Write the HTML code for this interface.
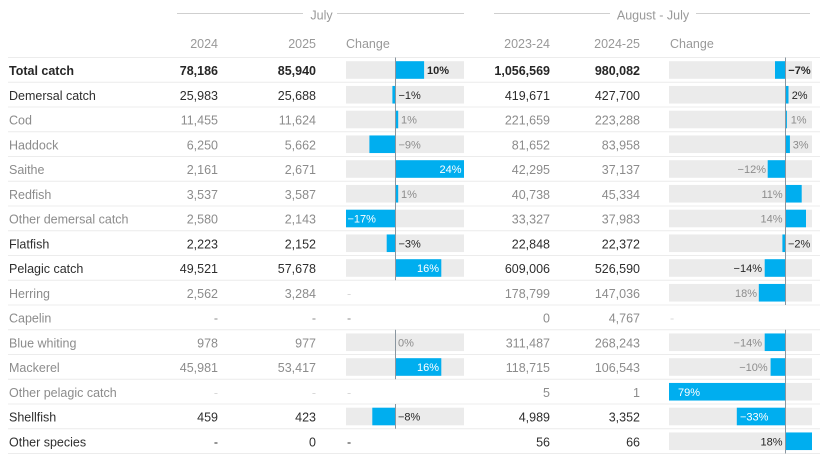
<!DOCTYPE html>
<html><head><meta charset="utf-8"><style>
html,body{margin:0;padding:0;background:#fff;width:820px;height:461px;overflow:hidden}
svg{display:block}
text{font-family:"Liberation Sans",sans-serif}
</style></head><body>
<svg width="820" height="461" viewBox="0 0 820 461" xmlns="http://www.w3.org/2000/svg">
<!-- group headers -->
<line x1="177" y1="13.5" x2="303" y2="13.5" stroke="#cfcfcf" stroke-width="1"/>
<line x1="337" y1="13.5" x2="464" y2="13.5" stroke="#cfcfcf" stroke-width="1"/>
<text x="321.5" y="19.5" font-size="12.5" fill="#999" text-anchor="middle">July</text>
<line x1="494" y1="13.5" x2="610" y2="13.5" stroke="#cfcfcf" stroke-width="1"/>
<line x1="696" y1="13.5" x2="810" y2="13.5" stroke="#cfcfcf" stroke-width="1"/>
<text x="653" y="19.5" font-size="12.5" fill="#999" text-anchor="middle">August - July</text>
<!-- column headers -->
<g font-size="12.5" fill="#999">
<text x="218" y="48" text-anchor="end">2024</text>
<text x="316" y="48" text-anchor="end">2025</text>
<text x="346" y="48">Change</text>
<text x="550" y="48" text-anchor="end">2023-24</text>
<text x="640" y="48" text-anchor="end">2024-25</text>
<text x="670" y="48">Change</text>
</g>
<!-- row separators -->
<g stroke="#ececec" stroke-width="1">
<line x1="8" y1="57.5" x2="820" y2="57.5"/>
<line x1="8" y1="82.25" x2="820" y2="82.25"/>
<line x1="8" y1="107" x2="820" y2="107"/>
<line x1="8" y1="131.75" x2="820" y2="131.75"/>
<line x1="8" y1="156.5" x2="820" y2="156.5"/>
<line x1="8" y1="181.25" x2="820" y2="181.25"/>
<line x1="8" y1="206" x2="820" y2="206"/>
<line x1="8" y1="230.75" x2="820" y2="230.75"/>
<line x1="8" y1="255.5" x2="820" y2="255.5"/>
<line x1="8" y1="280.25" x2="820" y2="280.25"/>
<line x1="8" y1="305" x2="820" y2="305"/>
<line x1="8" y1="329.75" x2="820" y2="329.75"/>
<line x1="8" y1="354.5" x2="820" y2="354.5"/>
<line x1="8" y1="379.25" x2="820" y2="379.25"/>
<line x1="8" y1="404" x2="820" y2="404"/>
<line x1="8" y1="428.75" x2="820" y2="428.75"/>
<line x1="8" y1="453.5" x2="820" y2="453.5"/>
</g>
<!-- grey backgrounds left -->
<g fill="#ebebeb">
<rect x="346" y="61.2" width="118" height="17.6"/>
<rect x="346" y="85.95" width="118" height="17.6"/>
<rect x="346" y="110.7" width="118" height="17.6"/>
<rect x="346" y="135.45" width="118" height="17.6"/>
<rect x="346" y="160.2" width="118" height="17.6"/>
<rect x="346" y="184.95" width="118" height="17.6"/>
<rect x="346" y="209.7" width="118" height="17.6"/>
<rect x="346" y="234.45" width="118" height="17.6"/>
<rect x="346" y="259.2" width="118" height="17.6"/>
<rect x="346" y="333.45" width="118" height="17.6"/>
<rect x="346" y="358.2" width="118" height="17.6"/>
<rect x="346" y="407.7" width="118" height="17.6"/>
<!-- right -->
<rect x="669" y="61.2" width="143" height="17.6"/>
<rect x="669" y="85.95" width="143" height="17.6"/>
<rect x="669" y="110.7" width="143" height="17.6"/>
<rect x="669" y="135.45" width="143" height="17.6"/>
<rect x="669" y="160.2" width="143" height="17.6"/>
<rect x="669" y="184.95" width="143" height="17.6"/>
<rect x="669" y="209.7" width="143" height="17.6"/>
<rect x="669" y="234.45" width="143" height="17.6"/>
<rect x="669" y="259.2" width="143" height="17.6"/>
<rect x="669" y="283.95" width="143" height="17.6"/>
<rect x="669" y="333.45" width="143" height="17.6"/>
<rect x="669" y="358.2" width="143" height="17.6"/>
<rect x="669" y="382.95" width="143" height="17.6"/>
<rect x="669" y="407.7" width="143" height="17.6"/>
<rect x="669" y="432.45" width="143" height="17.6"/>
</g>
<!-- blue bars left (zero 395.3, 2.88px/%) -->
<g fill="#00aeef">
<rect x="395.3" y="61.2" width="28.8" height="17.6"/>
<rect x="392.4" y="85.95" width="2.9" height="17.6"/>
<rect x="395.3" y="110.7" width="2.9" height="17.6"/>
<rect x="369.4" y="135.45" width="25.9" height="17.6"/>
<rect x="395.3" y="160.2" width="68.7" height="17.6"/>
<rect x="395.3" y="184.95" width="2.9" height="17.6"/>
<rect x="346" y="209.7" width="49.3" height="17.6"/>
<rect x="386.7" y="234.45" width="8.6" height="17.6"/>
<rect x="395.3" y="259.2" width="46" height="17.6"/>
<rect x="395.3" y="358.2" width="46" height="17.6"/>
<rect x="372.3" y="407.7" width="23" height="17.6"/>
<!-- right (zero 785.3, 1.47px/%) -->
<rect x="775" y="61.2" width="10.3" height="17.6"/>
<rect x="785.3" y="85.95" width="3.2" height="17.6"/>
<rect x="785.3" y="110.7" width="1.6" height="17.6"/>
<rect x="785.3" y="135.45" width="4.6" height="17.6"/>
<rect x="767.7" y="160.2" width="17.6" height="17.6"/>
<rect x="785.3" y="184.95" width="16.4" height="17.6"/>
<rect x="785.3" y="209.7" width="20.7" height="17.6"/>
<rect x="782.4" y="234.45" width="2.9" height="17.6"/>
<rect x="764.7" y="259.2" width="20.6" height="17.6"/>
<rect x="758.8" y="283.95" width="26.5" height="17.6"/>
<rect x="764.7" y="333.45" width="20.6" height="17.6"/>
<rect x="770.6" y="358.2" width="14.7" height="17.6"/>
<rect x="669" y="382.95" width="116.3" height="17.6"/>
<rect x="736.8" y="407.7" width="48.5" height="17.6"/>
<rect x="785.3" y="432.45" width="26.7" height="17.6"/>
</g>
<!-- zero lines -->
<g stroke="#8a96a0" stroke-width="1">
<line x1="395.5" y1="57.5" x2="395.5" y2="280.25"/>
<line x1="395.5" y1="329.75" x2="395.5" y2="379.25"/>
<line x1="395.5" y1="404" x2="395.5" y2="428.75"/>
<line x1="785.5" y1="57.5" x2="785.5" y2="305"/>
<line x1="785.5" y1="329.75" x2="785.5" y2="453.5"/>
</g>
<!-- row labels and values -->
<g font-size="12.5">
<g fill="#262626" font-weight="bold">
<text x="9" y="75">Total catch</text>
<text x="218" y="75" text-anchor="end">78,186</text>
<text x="316" y="75" text-anchor="end">85,940</text>
<text x="550" y="75" text-anchor="end">1,056,569</text>
<text x="640" y="75" text-anchor="end">980,082</text>
</g>
<g fill="#2e2e2e">
<text x="9" y="99.75">Demersal catch</text>
<text x="218" y="99.75" text-anchor="end">25,983</text>
<text x="316" y="99.75" text-anchor="end">25,688</text>
<text x="550" y="99.75" text-anchor="end">419,671</text>
<text x="640" y="99.75" text-anchor="end">427,700</text>
<text x="9" y="248.25">Flatfish</text>
<text x="218" y="248.25" text-anchor="end">2,223</text>
<text x="316" y="248.25" text-anchor="end">2,152</text>
<text x="550" y="248.25" text-anchor="end">22,848</text>
<text x="640" y="248.25" text-anchor="end">22,372</text>
<text x="9" y="273">Pelagic catch</text>
<text x="218" y="273" text-anchor="end">49,521</text>
<text x="316" y="273" text-anchor="end">57,678</text>
<text x="550" y="273" text-anchor="end">609,006</text>
<text x="640" y="273" text-anchor="end">526,590</text>
<text x="9" y="421.5">Shellfish</text>
<text x="218" y="421.5" text-anchor="end">459</text>
<text x="316" y="421.5" text-anchor="end">423</text>
<text x="550" y="421.5" text-anchor="end">4,989</text>
<text x="640" y="421.5" text-anchor="end">3,352</text>
<text x="9" y="446.25">Other species</text>
<text x="218" y="446.25" text-anchor="end">-</text>
<text x="316" y="446.25" text-anchor="end">0</text>
<text x="550" y="446.25" text-anchor="end">56</text>
<text x="640" y="446.25" text-anchor="end">66</text>
<text x="347" y="446.25">-</text>
</g>
<g fill="#8c8c8c">
<text x="9" y="124.5">Cod</text>
<text x="218" y="124.5" text-anchor="end">11,455</text>
<text x="316" y="124.5" text-anchor="end">11,624</text>
<text x="550" y="124.5" text-anchor="end">221,659</text>
<text x="640" y="124.5" text-anchor="end">223,288</text>
<text x="9" y="149.25">Haddock</text>
<text x="218" y="149.25" text-anchor="end">6,250</text>
<text x="316" y="149.25" text-anchor="end">5,662</text>
<text x="550" y="149.25" text-anchor="end">81,652</text>
<text x="640" y="149.25" text-anchor="end">83,958</text>
<text x="9" y="174">Saithe</text>
<text x="218" y="174" text-anchor="end">2,161</text>
<text x="316" y="174" text-anchor="end">2,671</text>
<text x="550" y="174" text-anchor="end">42,295</text>
<text x="640" y="174" text-anchor="end">37,137</text>
<text x="9" y="198.75">Redfish</text>
<text x="218" y="198.75" text-anchor="end">3,537</text>
<text x="316" y="198.75" text-anchor="end">3,587</text>
<text x="550" y="198.75" text-anchor="end">40,738</text>
<text x="640" y="198.75" text-anchor="end">45,334</text>
<text x="9" y="223.5">Other demersal catch</text>
<text x="218" y="223.5" text-anchor="end">2,580</text>
<text x="316" y="223.5" text-anchor="end">2,143</text>
<text x="550" y="223.5" text-anchor="end">33,327</text>
<text x="640" y="223.5" text-anchor="end">37,983</text>
<text x="9" y="297.75">Herring</text>
<text x="218" y="297.75" text-anchor="end">2,562</text>
<text x="316" y="297.75" text-anchor="end">3,284</text>
<text x="550" y="297.75" text-anchor="end">178,799</text>
<text x="640" y="297.75" text-anchor="end">147,036</text>
<text x="9" y="322.5">Capelin</text>
<text x="218" y="322.5" text-anchor="end">-</text>
<text x="316" y="322.5" text-anchor="end">-</text>
<text x="550" y="322.5" text-anchor="end">0</text>
<text x="640" y="322.5" text-anchor="end">4,767</text>
<text x="347" y="322.5">-</text>
<text x="9" y="347.25">Blue whiting</text>
<text x="218" y="347.25" text-anchor="end">978</text>
<text x="316" y="347.25" text-anchor="end">977</text>
<text x="550" y="347.25" text-anchor="end">311,487</text>
<text x="640" y="347.25" text-anchor="end">268,243</text>
<text x="9" y="372">Mackerel</text>
<text x="218" y="372" text-anchor="end">45,981</text>
<text x="316" y="372" text-anchor="end">53,417</text>
<text x="550" y="372" text-anchor="end">118,715</text>
<text x="640" y="372" text-anchor="end">106,543</text>
<text x="9" y="396.75">Other pelagic catch</text>
<text x="550" y="396.75" text-anchor="end">5</text>
<text x="640" y="396.75" text-anchor="end">1</text>
</g>
<g fill="#d8d8d8">
<text x="218" y="396.75" text-anchor="end">-</text>
<text x="316" y="396.75" text-anchor="end">-</text>
<text x="347" y="396.75">-</text>
<text x="347" y="297.75">-</text>
<text x="670" y="322.5">-</text>
</g>
</g>
<!-- percent labels -->
<g font-size="11">
<g fill="#262626">
<text x="427" y="74" font-weight="bold">10%</text>
<text x="398.5" y="98.75">−1%</text>
<text x="398.5" y="247.25">−3%</text>
<text x="398" y="420.5">−8%</text>
<text x="788.3" y="74" font-weight="bold">−7%</text>
<text x="791.7" y="98.75">2%</text>
<text x="788" y="247.25">−2%</text>
<text x="762" y="272" text-anchor="end">−14%</text>
<text x="782.5" y="445.25" text-anchor="end">18%</text>
</g>
<g fill="#8c8c8c">
<text x="401" y="123.5">1%</text>
<text x="398.5" y="148.25">−9%</text>
<text x="401" y="197.75">1%</text>
<text x="398" y="346.25">0%</text>
<text x="790.7" y="123.5">1%</text>
<text x="792.7" y="148.25">3%</text>
<text x="766" y="173" text-anchor="end">−12%</text>
<text x="782.7" y="197.75" text-anchor="end">11%</text>
<text x="782.5" y="222.5" text-anchor="end">14%</text>
<text x="757" y="296.75" text-anchor="end">18%</text>
<text x="762" y="346.25" text-anchor="end">−14%</text>
<text x="767.7" y="371" text-anchor="end">−10%</text>
</g>
<g fill="#ffffff">
<text x="461.5" y="173" text-anchor="end">24%</text>
<text x="347.5" y="222.5">−17%</text>
<text x="439" y="272" text-anchor="end">16%</text>
<text x="439" y="371" text-anchor="end">16%</text>
<text x="678" y="395.75">79%</text>
<text x="740" y="420.5">−33%</text>
</g>
</g>
</svg>
</body></html>
